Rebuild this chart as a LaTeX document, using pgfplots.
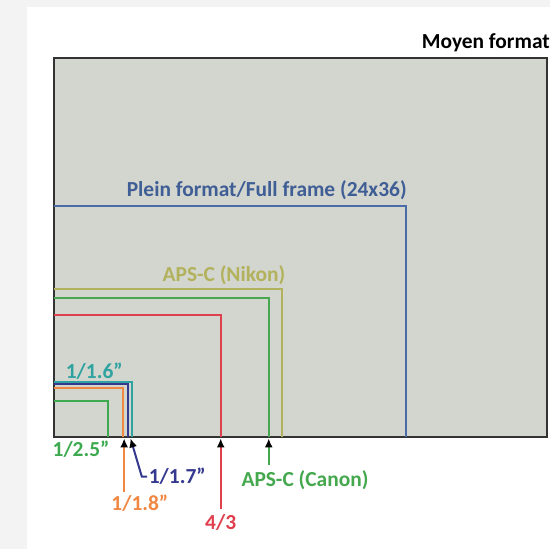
\documentclass[border=0pt]{standalone}
\usepackage{fontspec}
\setmainfont{Carlito}[Ligatures=ResetAll]
\usepackage{pgfplots}
\pgfplotsset{compat=1.18}
\usetikzlibrary{arrows.meta}
\definecolor{bggray}{HTML}{F3F3F3}
\definecolor{mfill}{HTML}{D3D5CF}
\definecolor{cff}{HTML}{4A6DA7}
\definecolor{cffT}{HTML}{3F5E96}
\definecolor{cnikon}{HTML}{B3B25C}
\definecolor{ccanon}{HTML}{45A84E}
\definecolor{cft}{HTML}{E0404E}
\definecolor{cteal}{HTML}{2EA3A0}
\definecolor{cnavy}{HTML}{34398F}
\definecolor{corange}{HTML}{F08844}
\definecolor{cgreen}{HTML}{3DAA50}
\tikzset{lab/.style={font=\fontsize{21.5}{24}\selectfont\bfseries, inner sep=0pt},
  arr/.style={line width=2bp, -{Latex[length=9bp,width=8bp,color=black]}}}
\begin{document}
\begin{tikzpicture}
\begin{axis}[
  scale only axis,
  width=495.9bp, height=379.9bp,
  xmin=0, xmax=50.6, ymin=0, ymax=38.77,
  axis lines=none, clip=false,
  every axis plot/.append style={line width=2bp, line join=miter, mark=none},
]
% page background
\fill[bggray] (axis cs:-5.52,-11.43) rectangle (axis cs:50.6,44.59);
\fill[white] (axis cs:-2.81,-11.43) rectangle (axis cs:50.6,43.88);
% medium format
\addplot[fill=mfill, draw=black!80, line width=2bp] coordinates {(0,0) (50.3,0) (50.3,38.7) (0,38.7)} -- cycle;
% sensors (top and right sides)
\addplot[cff]     coordinates {(0,23.6) (35.9,23.6) (35.9,0)};
\addplot[cnikon]  coordinates {(0,15.1) (23.3,15.1) (23.3,0)};
\addplot[ccanon]  coordinates {(0,14.2) (21.9,14.2) (21.9,0)};
\addplot[cft]     coordinates {(0,12.4) (17.0,12.4) (17.0,0)};
\addplot[cteal]   coordinates {(0,5.64) (7.96,5.64) (7.96,0)};
\addplot[cnavy]   coordinates {(0,5.38) (7.55,5.38) (7.55,0)};
\addplot[corange] coordinates {(0,4.97) (7.07,4.97) (7.07,0)};
\addplot[cgreen]  coordinates {(0,3.67) (5.54,3.67) (5.54,0)};
% labels
\node[lab, anchor=east, text=black] at (axis cs:50.6,40.2) {Moyen format};
\node[lab, anchor=east, text=cffT] at (axis cs:36.0,25.2) {Plein format/Full frame (24x36)};
\node[lab, anchor=east, text=cnikon] at (axis cs:23.6,16.5) {APS-C (Nikon)};
\node[lab, text=cteal] at (axis cs:4.1,6.75) {1/1.6"};
\node[lab, text=cgreen] at (axis cs:2.75,-1.25) {1/2.5"};
% arrows
\draw[corange, arr] (axis cs:7.15,-5.6) -- (axis cs:7.15,-0.15);
\node[lab, text=corange] at (axis cs:8.75,-6.75) {1/1.8"};
\draw[cnavy, arr] (axis cs:9.5,-4.05) -- (axis cs:8.95,-4.05) -- (axis cs:7.8,-0.15);
\node[lab, anchor=west, text=cnavy] at (axis cs:9.65,-4.05) {1/1.7"};
\draw[cft, arr] (axis cs:17.0,-7.4) -- (axis cs:17.0,-0.15);
\node[lab, text=cft] at (axis cs:17.0,-8.75) {4/3};
\draw[ccanon, arr] (axis cs:21.9,-2.9) -- (axis cs:21.9,-0.15);
\node[lab, text=ccanon] at (axis cs:25.6,-4.4) {APS-C (Canon)};
\end{axis}
\end{tikzpicture}
\end{document}
